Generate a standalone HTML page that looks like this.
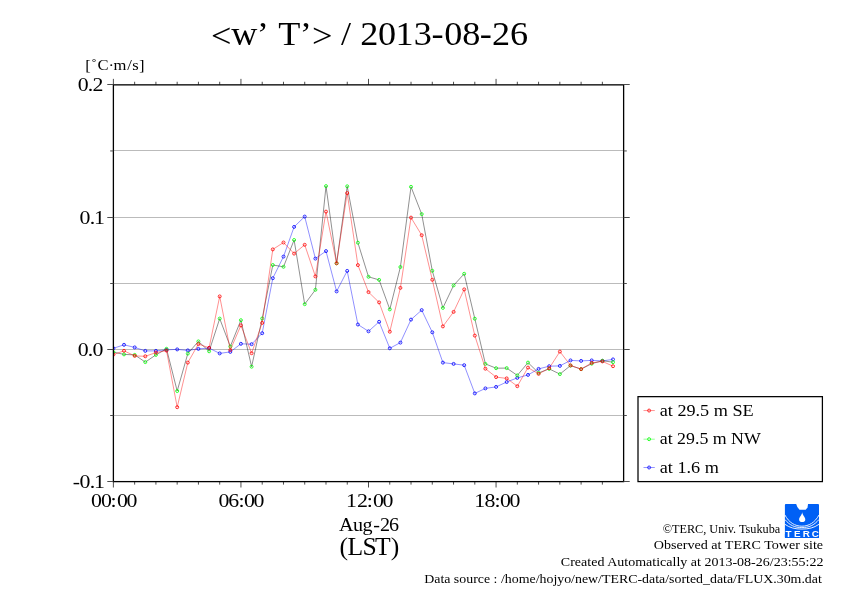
<!DOCTYPE html>
<html lang="en">
<head>
<meta charset="utf-8">
<title>&lt;w' T'&gt; / 2013-08-26</title>
<style>
html,body{margin:0;padding:0;background:#fff;}
body{width:842px;height:595px;overflow:hidden;}
svg{display:block;}
</style>
</head>
<body>
<svg width="842" height="595" viewBox="0 0 842 595">
<rect x="0" y="0" width="842" height="595" fill="#fff"/>
<g stroke="#bbbbbb" stroke-width="1"><line x1="113.39" y1="150.50" x2="623.62" y2="150.50"/><line x1="113.39" y1="217.50" x2="623.62" y2="217.50"/><line x1="113.39" y1="283.50" x2="623.62" y2="283.50"/><line x1="113.39" y1="349.50" x2="623.62" y2="349.50"/><line x1="113.39" y1="415.50" x2="623.62" y2="415.50"/></g>
<clipPath id="pc"><rect x="113.39" y="84.76" width="510.23" height="396.85"/></clipPath><g clip-path="url(#pc)">
<polyline points="113.4,348.3 124.0,344.8 134.7,347.4 145.3,350.9 155.9,350.9 166.5,349.8 177.2,349.4 187.8,350.4 198.4,348.9 209.1,348.1 219.7,353.4 230.3,351.9 240.9,343.8 251.6,344.2 262.2,333.2 272.8,278.2 283.5,256.6 294.1,226.9 304.7,216.6 315.4,258.6 326.0,251.1 336.6,291.4 347.2,270.9 357.9,324.5 368.5,331.3 379.1,321.8 389.8,348.3 400.4,342.6 411.0,319.6 421.7,310.1 432.3,332.3 442.9,362.6 453.6,363.9 464.2,365.2 474.8,393.4 485.4,388.4 496.1,386.9 506.7,382.0 517.3,377.9 528.0,374.9 538.6,368.9 549.2,366.2 559.9,365.9 570.5,360.4 581.1,360.9 591.7,360.4 602.4,360.9 613.0,359.4" fill="none" stroke="#0000ff" stroke-width="0.44"/>
<g fill="none" stroke="#0000ff" stroke-width="0.8"><circle cx="113.4" cy="348.3" r="1.5"/><circle cx="124.0" cy="344.8" r="1.5"/><circle cx="134.7" cy="347.4" r="1.5"/><circle cx="145.3" cy="350.9" r="1.5"/><circle cx="155.9" cy="350.9" r="1.5"/><circle cx="166.5" cy="349.8" r="1.5"/><circle cx="177.2" cy="349.4" r="1.5"/><circle cx="187.8" cy="350.4" r="1.5"/><circle cx="198.4" cy="348.9" r="1.5"/><circle cx="209.1" cy="348.1" r="1.5"/><circle cx="219.7" cy="353.4" r="1.5"/><circle cx="230.3" cy="351.9" r="1.5"/><circle cx="240.9" cy="343.8" r="1.5"/><circle cx="251.6" cy="344.2" r="1.5"/><circle cx="262.2" cy="333.2" r="1.5"/><circle cx="272.8" cy="278.2" r="1.5"/><circle cx="283.5" cy="256.6" r="1.5"/><circle cx="294.1" cy="226.9" r="1.5"/><circle cx="304.7" cy="216.6" r="1.5"/><circle cx="315.4" cy="258.6" r="1.5"/><circle cx="326.0" cy="251.1" r="1.5"/><circle cx="336.6" cy="291.4" r="1.5"/><circle cx="347.2" cy="270.9" r="1.5"/><circle cx="357.9" cy="324.5" r="1.5"/><circle cx="368.5" cy="331.3" r="1.5"/><circle cx="379.1" cy="321.8" r="1.5"/><circle cx="389.8" cy="348.3" r="1.5"/><circle cx="400.4" cy="342.6" r="1.5"/><circle cx="411.0" cy="319.6" r="1.5"/><circle cx="421.7" cy="310.1" r="1.5"/><circle cx="432.3" cy="332.3" r="1.5"/><circle cx="442.9" cy="362.6" r="1.5"/><circle cx="453.6" cy="363.9" r="1.5"/><circle cx="464.2" cy="365.2" r="1.5"/><circle cx="474.8" cy="393.4" r="1.5"/><circle cx="485.4" cy="388.4" r="1.5"/><circle cx="496.1" cy="386.9" r="1.5"/><circle cx="506.7" cy="382.0" r="1.5"/><circle cx="517.3" cy="377.9" r="1.5"/><circle cx="528.0" cy="374.9" r="1.5"/><circle cx="538.6" cy="368.9" r="1.5"/><circle cx="549.2" cy="366.2" r="1.5"/><circle cx="559.9" cy="365.9" r="1.5"/><circle cx="570.5" cy="360.4" r="1.5"/><circle cx="581.1" cy="360.9" r="1.5"/><circle cx="591.7" cy="360.4" r="1.5"/><circle cx="602.4" cy="360.9" r="1.5"/><circle cx="613.0" cy="359.4" r="1.5"/></g>

<polyline points="113.4,352.1 124.0,354.4 134.7,354.9 145.3,362.1 155.9,354.9 166.5,348.8 177.2,391.0 187.8,353.6 198.4,341.4 209.1,351.3 219.7,318.6 230.3,346.5 240.9,320.2 251.6,366.7 262.2,318.5 272.8,265.0 283.5,266.8 294.1,240.0 304.7,304.2 315.4,289.8 326.0,186.1 336.6,263.3 347.2,186.3 357.9,242.7 368.5,276.8 379.1,279.9 389.8,309.4 400.4,267.0 411.0,186.8 421.7,214.1 432.3,270.8 442.9,307.9 453.6,285.4 464.2,273.8 474.8,318.7 485.4,363.9 496.1,368.2 506.7,368.1 517.3,375.4 528.0,362.6 538.6,372.9 549.2,368.9 559.9,374.1 570.5,365.6 581.1,369.1 591.7,363.7 602.4,360.7 613.0,362.2" fill="none" stroke="#000000" stroke-width="0.44"/>
<g fill="none" stroke="#00ff00" stroke-width="0.8"><circle cx="113.4" cy="352.1" r="1.5"/><circle cx="124.0" cy="354.4" r="1.5"/><circle cx="134.7" cy="354.9" r="1.5"/><circle cx="145.3" cy="362.1" r="1.5"/><circle cx="155.9" cy="354.9" r="1.5"/><circle cx="166.5" cy="348.8" r="1.5"/><circle cx="177.2" cy="391.0" r="1.5"/><circle cx="187.8" cy="353.6" r="1.5"/><circle cx="198.4" cy="341.4" r="1.5"/><circle cx="209.1" cy="351.3" r="1.5"/><circle cx="219.7" cy="318.6" r="1.5"/><circle cx="230.3" cy="346.5" r="1.5"/><circle cx="240.9" cy="320.2" r="1.5"/><circle cx="251.6" cy="366.7" r="1.5"/><circle cx="262.2" cy="318.5" r="1.5"/><circle cx="272.8" cy="265.0" r="1.5"/><circle cx="283.5" cy="266.8" r="1.5"/><circle cx="294.1" cy="240.0" r="1.5"/><circle cx="304.7" cy="304.2" r="1.5"/><circle cx="315.4" cy="289.8" r="1.5"/><circle cx="326.0" cy="186.1" r="1.5"/><circle cx="336.6" cy="263.3" r="1.5"/><circle cx="347.2" cy="186.3" r="1.5"/><circle cx="357.9" cy="242.7" r="1.5"/><circle cx="368.5" cy="276.8" r="1.5"/><circle cx="379.1" cy="279.9" r="1.5"/><circle cx="389.8" cy="309.4" r="1.5"/><circle cx="400.4" cy="267.0" r="1.5"/><circle cx="411.0" cy="186.8" r="1.5"/><circle cx="421.7" cy="214.1" r="1.5"/><circle cx="432.3" cy="270.8" r="1.5"/><circle cx="442.9" cy="307.9" r="1.5"/><circle cx="453.6" cy="285.4" r="1.5"/><circle cx="464.2" cy="273.8" r="1.5"/><circle cx="474.8" cy="318.7" r="1.5"/><circle cx="485.4" cy="363.9" r="1.5"/><circle cx="496.1" cy="368.2" r="1.5"/><circle cx="506.7" cy="368.1" r="1.5"/><circle cx="517.3" cy="375.4" r="1.5"/><circle cx="528.0" cy="362.6" r="1.5"/><circle cx="538.6" cy="372.9" r="1.5"/><circle cx="549.2" cy="368.9" r="1.5"/><circle cx="559.9" cy="374.1" r="1.5"/><circle cx="570.5" cy="365.6" r="1.5"/><circle cx="581.1" cy="369.1" r="1.5"/><circle cx="591.7" cy="363.7" r="1.5"/><circle cx="602.4" cy="360.7" r="1.5"/><circle cx="613.0" cy="362.2" r="1.5"/></g>

<polyline points="113.4,354.6 124.0,350.8 134.7,355.9 145.3,356.3 155.9,352.6 166.5,350.6 177.2,407.2 187.8,362.6 198.4,344.1 209.1,347.8 219.7,296.4 230.3,350.0 240.9,325.4 251.6,353.2 262.2,322.9 272.8,249.4 283.5,242.5 294.1,253.6 304.7,244.8 315.4,276.4 326.0,211.6 336.6,263.3 347.2,193.1 357.9,265.1 368.5,292.1 379.1,302.4 389.8,331.7 400.4,287.9 411.0,217.6 421.7,235.2 432.3,279.8 442.9,326.4 453.6,311.9 464.2,289.4 474.8,335.6 485.4,368.7 496.1,377.1 506.7,378.4 517.3,386.2 528.0,367.6 538.6,373.9 549.2,368.2 559.9,351.6 570.5,365.4 581.1,369.1 591.7,362.9 602.4,361.4 613.0,366.2" fill="none" stroke="#ff0000" stroke-width="0.44"/>
<g fill="none" stroke="#ff0000" stroke-width="0.8"><circle cx="113.4" cy="354.6" r="1.5"/><circle cx="124.0" cy="350.8" r="1.5"/><circle cx="134.7" cy="355.9" r="1.5"/><circle cx="145.3" cy="356.3" r="1.5"/><circle cx="155.9" cy="352.6" r="1.5"/><circle cx="166.5" cy="350.6" r="1.5"/><circle cx="177.2" cy="407.2" r="1.5"/><circle cx="187.8" cy="362.6" r="1.5"/><circle cx="198.4" cy="344.1" r="1.5"/><circle cx="209.1" cy="347.8" r="1.5"/><circle cx="219.7" cy="296.4" r="1.5"/><circle cx="230.3" cy="350.0" r="1.5"/><circle cx="240.9" cy="325.4" r="1.5"/><circle cx="251.6" cy="353.2" r="1.5"/><circle cx="262.2" cy="322.9" r="1.5"/><circle cx="272.8" cy="249.4" r="1.5"/><circle cx="283.5" cy="242.5" r="1.5"/><circle cx="294.1" cy="253.6" r="1.5"/><circle cx="304.7" cy="244.8" r="1.5"/><circle cx="315.4" cy="276.4" r="1.5"/><circle cx="326.0" cy="211.6" r="1.5"/><circle cx="336.6" cy="263.3" r="1.5"/><circle cx="347.2" cy="193.1" r="1.5"/><circle cx="357.9" cy="265.1" r="1.5"/><circle cx="368.5" cy="292.1" r="1.5"/><circle cx="379.1" cy="302.4" r="1.5"/><circle cx="389.8" cy="331.7" r="1.5"/><circle cx="400.4" cy="287.9" r="1.5"/><circle cx="411.0" cy="217.6" r="1.5"/><circle cx="421.7" cy="235.2" r="1.5"/><circle cx="432.3" cy="279.8" r="1.5"/><circle cx="442.9" cy="326.4" r="1.5"/><circle cx="453.6" cy="311.9" r="1.5"/><circle cx="464.2" cy="289.4" r="1.5"/><circle cx="474.8" cy="335.6" r="1.5"/><circle cx="485.4" cy="368.7" r="1.5"/><circle cx="496.1" cy="377.1" r="1.5"/><circle cx="506.7" cy="378.4" r="1.5"/><circle cx="517.3" cy="386.2" r="1.5"/><circle cx="528.0" cy="367.6" r="1.5"/><circle cx="538.6" cy="373.9" r="1.5"/><circle cx="549.2" cy="368.2" r="1.5"/><circle cx="559.9" cy="351.6" r="1.5"/><circle cx="570.5" cy="365.4" r="1.5"/><circle cx="581.1" cy="369.1" r="1.5"/><circle cx="591.7" cy="362.9" r="1.5"/><circle cx="602.4" cy="361.4" r="1.5"/><circle cx="613.0" cy="366.2" r="1.5"/></g>

</g>
<rect x="113.39" y="84.86" width="510.23" height="396.75" fill="none" stroke="#000" stroke-width="1.3"/>
<g stroke="#000" stroke-width="0.7"><line x1="113.39" y1="84.76" x2="113.39" y2="78.86"/><line x1="113.39" y1="481.61" x2="113.39" y2="487.51"/><line x1="134.65" y1="84.76" x2="134.65" y2="81.76"/><line x1="134.65" y1="481.61" x2="134.65" y2="484.61"/><line x1="155.91" y1="84.76" x2="155.91" y2="81.76"/><line x1="155.91" y1="481.61" x2="155.91" y2="484.61"/><line x1="177.17" y1="84.76" x2="177.17" y2="81.76"/><line x1="177.17" y1="481.61" x2="177.17" y2="484.61"/><line x1="198.43" y1="84.76" x2="198.43" y2="81.76"/><line x1="198.43" y1="481.61" x2="198.43" y2="484.61"/><line x1="219.69" y1="84.76" x2="219.69" y2="81.76"/><line x1="219.69" y1="481.61" x2="219.69" y2="484.61"/><line x1="240.95" y1="84.76" x2="240.95" y2="78.86"/><line x1="240.95" y1="481.61" x2="240.95" y2="487.51"/><line x1="262.21" y1="84.76" x2="262.21" y2="81.76"/><line x1="262.21" y1="481.61" x2="262.21" y2="484.61"/><line x1="283.47" y1="84.76" x2="283.47" y2="81.76"/><line x1="283.47" y1="481.61" x2="283.47" y2="484.61"/><line x1="304.73" y1="84.76" x2="304.73" y2="81.76"/><line x1="304.73" y1="481.61" x2="304.73" y2="484.61"/><line x1="325.99" y1="84.76" x2="325.99" y2="81.76"/><line x1="325.99" y1="481.61" x2="325.99" y2="484.61"/><line x1="347.25" y1="84.76" x2="347.25" y2="81.76"/><line x1="347.25" y1="481.61" x2="347.25" y2="484.61"/><line x1="368.50" y1="84.76" x2="368.50" y2="78.86"/><line x1="368.50" y1="481.61" x2="368.50" y2="487.51"/><line x1="389.76" y1="84.76" x2="389.76" y2="81.76"/><line x1="389.76" y1="481.61" x2="389.76" y2="484.61"/><line x1="411.02" y1="84.76" x2="411.02" y2="81.76"/><line x1="411.02" y1="481.61" x2="411.02" y2="484.61"/><line x1="432.28" y1="84.76" x2="432.28" y2="81.76"/><line x1="432.28" y1="481.61" x2="432.28" y2="484.61"/><line x1="453.54" y1="84.76" x2="453.54" y2="81.76"/><line x1="453.54" y1="481.61" x2="453.54" y2="484.61"/><line x1="474.80" y1="84.76" x2="474.80" y2="81.76"/><line x1="474.80" y1="481.61" x2="474.80" y2="484.61"/><line x1="496.06" y1="84.76" x2="496.06" y2="78.86"/><line x1="496.06" y1="481.61" x2="496.06" y2="487.51"/><line x1="517.32" y1="84.76" x2="517.32" y2="81.76"/><line x1="517.32" y1="481.61" x2="517.32" y2="484.61"/><line x1="538.58" y1="84.76" x2="538.58" y2="81.76"/><line x1="538.58" y1="481.61" x2="538.58" y2="484.61"/><line x1="559.84" y1="84.76" x2="559.84" y2="81.76"/><line x1="559.84" y1="481.61" x2="559.84" y2="484.61"/><line x1="581.10" y1="84.76" x2="581.10" y2="81.76"/><line x1="581.10" y1="481.61" x2="581.10" y2="484.61"/><line x1="602.36" y1="84.76" x2="602.36" y2="81.76"/><line x1="602.36" y1="481.61" x2="602.36" y2="484.61"/></g><g stroke="#4c4c4c" stroke-width="1"><line x1="113.39" y1="481.50" x2="107.29" y2="481.50"/><line x1="623.62" y1="481.50" x2="629.72" y2="481.50"/><line x1="113.39" y1="415.50" x2="110.19" y2="415.50"/><line x1="623.62" y1="415.50" x2="626.82" y2="415.50"/><line x1="113.39" y1="349.50" x2="107.29" y2="349.50"/><line x1="623.62" y1="349.50" x2="629.72" y2="349.50"/><line x1="113.39" y1="283.50" x2="110.19" y2="283.50"/><line x1="623.62" y1="283.50" x2="626.82" y2="283.50"/><line x1="113.39" y1="217.50" x2="107.29" y2="217.50"/><line x1="623.62" y1="217.50" x2="629.72" y2="217.50"/><line x1="113.39" y1="150.95" x2="110.19" y2="150.95"/><line x1="623.62" y1="150.95" x2="626.82" y2="150.95"/><line x1="113.39" y1="84.50" x2="107.29" y2="84.50"/><line x1="623.62" y1="84.50" x2="629.72" y2="84.50"/></g>
<g font-family="'Liberation Serif', 'DejaVu Serif', serif" fill="#000">
<text transform="scale(1.065,1)" x="198.08 217.11 241.07 252.40 261.20 281.40 292.86 312.05 320.15 329.61 338.17 354.84 371.42 388.41 405.15 417.09 433.94 450.41 462.02 478.76" y="47.3 44.7 44.7 44.7 44.7 44.7 47.3 44.7 44.7 44.7 44.7 44.7 44.7 44.7 44.7 44.7 44.7 44.7 44.7 44.7" font-size="34" xml:space="preserve">&lt;w’ T’&gt; / 2013-08-26</text>
<text transform="scale(1.07,1)" x="79.72 85.36 91.18 101.36 106.05 118.86 123.55 129.85" y="70.3" font-size="15.5" xml:space="preserve">[˚C·m/s]</text>
<text transform="scale(1.12,1)" x="69.37 78.41 82.57" y="91.0" font-size="19.5" xml:space="preserve">0.2</text>
<text transform="scale(1.12,1)" x="71.06 80.11 83.87" y="223.9" font-size="19.5" xml:space="preserve">0.1</text>
<text transform="scale(1.12,1)" x="69.37 78.32 82.67" y="355.9" font-size="19.5" xml:space="preserve">0.0</text>
<text transform="scale(1.12,1)" x="64.96 71.06 80.11 83.87" y="487.9" font-size="19.5" xml:space="preserve">-0.1</text>
<text transform="scale(1.12,1)" x="81.20 90.08 98.74 104.46 113.00" y="506.9" font-size="19.5" xml:space="preserve">00:00</text>
<text transform="scale(1.12,1)" x="195.08 203.71 212.98 217.85 226.39" y="506.9" font-size="19.5" xml:space="preserve">06:00</text>
<text transform="scale(1.12,1)" x="308.96 318.78 327.54 333.03 341.57" y="506.9" font-size="19.5" xml:space="preserve">12:00</text>
<text transform="scale(1.12,1)" x="423.34 432.54 441.64 446.42 454.96" y="506.9" font-size="19.5" xml:space="preserve">18:00</text>
<text transform="scale(1.03,1)" x="329.23 342.85 352.06 362.38 368.94 377.57" y="530.8" font-size="19.5" xml:space="preserve">Aug-26</text>
<text transform="scale(1.06,1)" x="320.32 327.79 341.96 353.75 368.67" y="555.0" font-size="24.2" xml:space="preserve">(LST)</text>
<rect x="638" y="396.65" width="184.4" height="84.95" fill="#fff" stroke="#000" stroke-width="1.25"/>
<line x1="643.5" y1="410.55" x2="654.8" y2="410.55" stroke="#ff0000" stroke-width="0.42"/>
<circle cx="649.1" cy="410.55" r="1.5" fill="none" stroke="#ff0000" stroke-width="0.8"/>
<text x="659.73" y="415.7" font-size="17" textLength="93.97" lengthAdjust="spacingAndGlyphs" xml:space="preserve">at 29.5 m SE</text>
<line x1="643.5" y1="439.20" x2="654.8" y2="439.20" stroke="#00ff00" stroke-width="0.42"/>
<circle cx="649.1" cy="439.20" r="1.5" fill="none" stroke="#00ff00" stroke-width="0.8"/>
<text x="659.74" y="444.3" font-size="17" textLength="101.14" lengthAdjust="spacingAndGlyphs" xml:space="preserve">at 29.5 m NW</text>
<line x1="643.5" y1="467.50" x2="654.8" y2="467.50" stroke="#0000ff" stroke-width="0.42"/>
<circle cx="649.1" cy="467.50" r="1.5" fill="none" stroke="#0000ff" stroke-width="0.8"/>
<text x="659.73" y="472.5" font-size="17" textLength="59.14" lengthAdjust="spacingAndGlyphs" xml:space="preserve">at 1.6 m</text>
<text x="662.68" y="533.0" font-size="11.8" textLength="117.53" lengthAdjust="spacingAndGlyphs" xml:space="preserve">©TERC, Univ. Tsukuba</text>
<text x="653.76" y="548.8" font-size="13.1" textLength="169.38" lengthAdjust="spacingAndGlyphs" xml:space="preserve">Observed at TERC Tower site</text>
<text x="560.87" y="565.9" font-size="13.1" textLength="262.60" lengthAdjust="spacingAndGlyphs" xml:space="preserve">Created Automatically at 2013-08-26/23:55:22</text>
<text x="424.20" y="582.5" font-size="13.1" textLength="397.63" lengthAdjust="spacingAndGlyphs" xml:space="preserve">Data source : /home/hojyo/new/TERC-data/sorted_data/FLUX.30m.dat</text>
</g>
<g transform="translate(784.9,504)"><rect x="0" y="0" width="34.1" height="34" rx="1" ry="1" fill="#0060f5"/><rect x="0" y="30" width="34.1" height="4" fill="#0060f5"/><path d="M11.2 -0.2 L12.4 3 L14.6 5.8 L20.8 5.8 L22.6 3.4 L23.2 -0.2 Z" fill="#fff"/><path d="M17.3 7.9 C17.3 11 20.4 12.6 20.4 15.5 C20.4 17.5 19 18.1 17.3 18.1 C15.6 18.1 14.2 17.5 14.2 15.5 C14.2 12.6 17.3 11 17.3 7.9 Z" fill="#fff"/><path d="M0 11 C4 18.5 10 22.2 17 22.2 C24 22.2 30 18.5 34.1 11" fill="none" stroke="#fff" stroke-width="0.9"/><path d="M0 15.5 C5 21.5 10 23.6 17 23.6 C24 23.6 29 21.5 34.1 15.5" fill="none" stroke="#fff" stroke-width="0.9"/><path d="M0 20.3 C5 23.8 10 25.1 17 25.1 C24 25.1 29 23.8 34.1 20.3" fill="none" stroke="#fff" stroke-width="0.9"/><text transform="scale(1.2,1)" x="3.1 10.3 17.9 25.4" y="33.1" font-family="'Liberation Sans', sans-serif" font-weight="bold" font-size="8.2" fill="#fff" text-anchor="middle">TERC</text></g>
</svg>
</body>
</html>
